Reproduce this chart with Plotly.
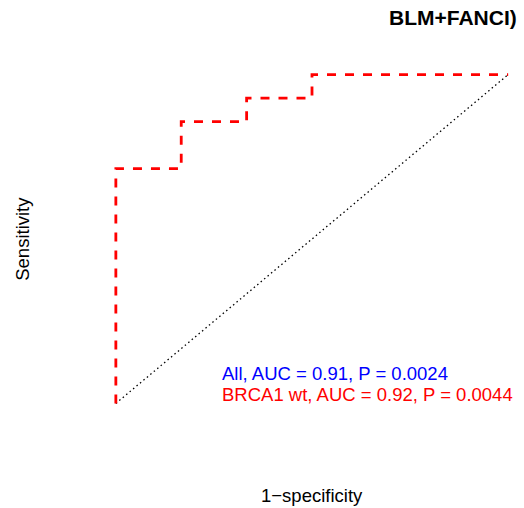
import plotly.graph_objects as go

# ROC data
fpr = [0.0, 0.0, 1/6, 1/6, 2/6, 2/6, 3/6, 3/6, 1.0]
tpr = [0.0, 10/14, 10/14, 12/14, 12/14, 13/14, 13/14, 1.0, 1.0]
diag_x = [0.0, 1.0]
diag_y = [0.0, 1.0]

title_text = "<b>BLM+FANCI)</b>"
legend_lines = ["All, AUC = 0.91, P = 0.0024", "BRCA1 wt, AUC = 0.92, P = 0.0044"]
legend_colors = ["#0000FF", "#FF0000"]
legend_y = [0.091, 0.027]

FONT = "Liberation Sans, Arial, Helvetica, sans-serif"

W, H = 524, 508
X0, X1 = 116, 508      # pixel positions of fpr 0 and 1
Y0, Y1 = 403, 75       # pixel positions of tpr 0 and 1
PAD = 0.02
sx = X1 - X0
sy = Y0 - Y1
left = X0 - PAD * sx
right = X1 + PAD * sx
top = Y1 - PAD * sy
bottom = Y0 + PAD * sy

def px(p):
    return (p - left) / (right - left)

def py(p):
    return (bottom - p) / (bottom - top)

fig = go.Figure()
fig.add_trace(go.Scatter(x=diag_x, y=diag_y, mode="lines",
                         line=dict(color="black", width=1.3, dash="1.5px,3px"),
                         hoverinfo="skip"))
fig.add_trace(go.Scatter(x=fpr, y=tpr, mode="lines",
                         line=dict(color="#FF0000", width=2.8, dash="9px,9px"),
                         hoverinfo="skip"))

annotations = []
for txt, col, yy in zip(legend_lines, legend_colors, legend_y):
    annotations.append(dict(x=0.265, y=yy, xref="x", yref="y", text=txt, showarrow=False,
                            xanchor="left", yanchor="middle",
                            font=dict(family=FONT, size=18.5, color=col)))
annotations.append(dict(x=px(519), y=py(18), xref="paper", yref="paper", text=title_text,
                        showarrow=False, xanchor="right", yanchor="middle",
                        font=dict(family=FONT, size=21, color="black")))
annotations.append(dict(x=px(312), y=py(495), xref="paper", yref="paper", text="1\u2212specificity",
                        showarrow=False, xanchor="center", yanchor="middle",
                        font=dict(family=FONT, size=18.5, color="black")))
annotations.append(dict(x=px(22), y=py(239), xref="paper", yref="paper", text="Sensitivity",
                        showarrow=False, xanchor="center", yanchor="middle",
                        textangle=-90,
                        font=dict(family=FONT, size=18.5, color="black")))

fig.update_layout(
    width=W, height=H,
    margin=dict(l=left, r=W - right, t=top, b=H - bottom, pad=0),
    paper_bgcolor="white", plot_bgcolor="white",
    showlegend=False,
    xaxis=dict(range=[-PAD, 1 + PAD], visible=False, showgrid=False, zeroline=False),
    yaxis=dict(range=[-PAD, 1 + PAD], visible=False, showgrid=False, zeroline=False),
    annotations=annotations,
)

fig.write_html("out.html", config={"displayModeBar": False},
               post_script="document.body.style.margin='0';document.body.style.overflow='hidden';")
